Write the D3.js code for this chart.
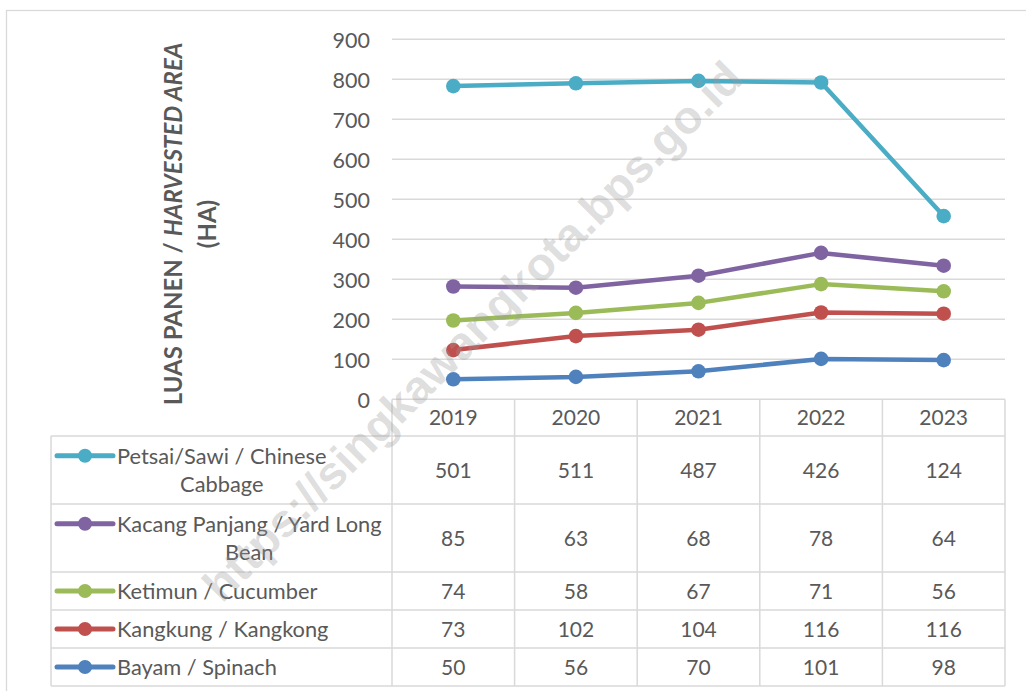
<!DOCTYPE html>
<html><head><meta charset="utf-8">
<script src="https://cdn.jsdelivr.net/npm/d3@7"></script>
<style>body{margin:0;background:#fff;}svg{display:block;font-family:Lato,"Noto Sans",sans-serif;}</style>
</head><body>
<svg id="c" width="1026" height="691"></svg>
<script>
const years = ["2019","2020","2021","2022","2023"];
const seriesNames = ["Bayam / Spinach","Kangkung / Kangkong","Ketimun / Cucumber","Kacang Panjang / Yard Long Bean","Petsai/Sawi / Chinese Cabbage"];
const legendLines = [["Bayam / Spinach"],["Kangkung / Kangkong"],["Ketimun / Cucumber"],["Kacang Panjang / Yard Long","Bean"],["Petsai/Sawi / Chinese","Cabbage"]];
const spinach = [50,56,70,101,98];
const kangkong = [73,102,104,116,116];
const cucumber = [74,58,67,71,56];
const yardLongBean = [85,63,68,78,64];
const chineseCabbage = [501,511,487,426,124];
const seriesColors = ["#4F81BD","#C0504D","#9BBB59","#8064A2","#4BACC6"];
const yTicks = [0,100,200,300,400,500,600,700,800,900];
const yTitleMain = "LUAS PANEN / ";
const yTitleItalic = "HARVESTED AREA";
const yTitleUnit = "(HA)";
const watermark = "https://singkawangkota.bps.go.id";

const values = [spinach,kangkong,cucumber,yardLongBean,chineseCabbage];
const svg = d3.select("#c");
const textCol = "#595959", gridCol = "#d9d9d9";

// outer border
svg.append("rect").attr("x",6.5).attr("y",10.5).attr("width",1040).attr("height",700)
  .attr("fill","none").attr("stroke",gridCol).attr("stroke-width",1.3);

const x = d3.scaleBand().domain(years).range([392,1005]);
const cx = d => x(d)+x.bandwidth()/2;
const y = d3.scaleLinear().domain([0,900]).range([399.3,39.3]);

// gridlines
svg.append("g").selectAll("line").data(yTicks.filter(t=>t>0)).join("line")
  .attr("x1",392).attr("x2",1005).attr("y1",d=>y(d)).attr("y2",d=>y(d))
  .attr("stroke",gridCol).attr("stroke-width",1.4);

// y axis labels
const yAxis = d3.axisLeft(y).tickValues(yTicks).tickSize(0).tickPadding(0);
const gy = svg.append("g").attr("transform","translate(370,0)").call(yAxis);
gy.select(".domain").remove();
gy.selectAll("text").attr("fill",textCol).attr("font-size",21.5).attr("font-family","Lato").attr("dy","0.36em");

// y title
const yt = svg.append("text").attr("transform","translate(182,224) rotate(-90)")
  .attr("text-anchor","middle").attr("font-weight","bold").attr("font-size",24).attr("fill",textCol);
yt.append("tspan").text(yTitleMain);
yt.append("tspan").attr("font-style","italic").text(yTitleItalic);
svg.append("text").attr("transform","translate(216,224) rotate(-90)")
  .attr("text-anchor","middle").attr("font-weight","bold").attr("font-size",24).attr("fill",textCol).text(yTitleUnit);

// stacked data
const table = years.map((yr,i)=>{const o={year:yr}; seriesNames.forEach((s,j)=>o[s]=values[j][i]); return o;});
const stacked = d3.stack().keys(seriesNames)(table);

// table grid
const rowEdges = [436,504,572,610,648,686];
const rowOrder = [4,3,2,1,0]; // table rows top->bottom -> series index
const tg = svg.append("g").attr("stroke",gridCol).attr("stroke-width",1.5);
tg.append("line").attr("x1",392).attr("x2",1005).attr("y1",399.3).attr("y2",399.3);
rowEdges.forEach(r=>tg.append("line").attr("x1",51).attr("x2",1005).attr("y1",r).attr("y2",r));
tg.append("line").attr("x1",51).attr("x2",51).attr("y1",436).attr("y2",686);
years.forEach(yr=>tg.append("line").attr("x1",x(yr)).attr("x2",x(yr)).attr("y1",399.3).attr("y2",686));
tg.append("line").attr("x1",1005).attr("x2",1005).attr("y1",399.3).attr("y2",686);

// year labels
svg.append("g").selectAll("text").data(years).join("text")
  .attr("x",cx).attr("y",417).attr("dy","0.36em").attr("text-anchor","middle")
  .attr("font-size",21).attr("fill",textCol).text(d=>d);

// rows
rowOrder.forEach((si,ri)=>{
  const top=rowEdges[ri], bot=rowEdges[ri+1], mid=(top+bot)/2;
  const lines = legendLines[si];
  const lh = 28.5;
  const firstY = mid - (lines.length-1)*lh/2;
  const g = svg.append("g");
  g.append("line").attr("x1",57).attr("x2",113).attr("y1",firstY).attr("y2",firstY)
    .attr("stroke",seriesColors[si]).attr("stroke-width",5).attr("stroke-linecap","round");
  g.append("circle").attr("cx",85).attr("cy",firstY).attr("r",7).attr("fill",seriesColors[si]);
  const t1 = g.append("text").attr("x",117).attr("y",firstY).attr("dy","0.36em")
    .attr("font-size",21.8).attr("fill",textCol).text(lines[0]);
  if(lines.length>1){
    const w = t1.node().getComputedTextLength();
    g.append("text").attr("x",117+w/2).attr("y",firstY+lh).attr("dy","0.36em").attr("text-anchor","middle")
      .attr("font-size",21.8).attr("fill",textCol).text(lines[1]);
  }
  g.selectAll("text.v").data(years).join("text").attr("class","v")
    .attr("x",cx).attr("y",mid).attr("dy","0.36em").attr("text-anchor","middle")
    .attr("font-size",21).attr("fill",textCol).text((d,i)=>values[si][i]);
});

// lines
const line = d3.line().x(d=>cx(d.data.year)).y(d=>y(d[1]));
stacked.forEach((s,i)=>{
  const g = svg.append("g");
  g.append("path").datum(s).attr("d",line).attr("fill","none")
    .attr("stroke",seriesColors[i]).attr("stroke-width",4.5).attr("stroke-linejoin","round");
  g.selectAll("circle").data(s).join("circle")
    .attr("cx",d=>cx(d.data.year)).attr("cy",d=>y(d[1])).attr("r",7.3).attr("fill",seriesColors[i]);
});

// watermark
svg.append("text").attr("transform","translate(222,604) rotate(-45)")
  .attr("font-family","'Liberation Sans',Arial,sans-serif").attr("font-weight","bold")
  .attr("font-size",46).attr("fill","#9a9a9a").attr("fill-opacity",0.33)
  .attr("textLength",740).attr("lengthAdjust","spacingAndGlyphs").text(watermark);
</script>
</body></html>
